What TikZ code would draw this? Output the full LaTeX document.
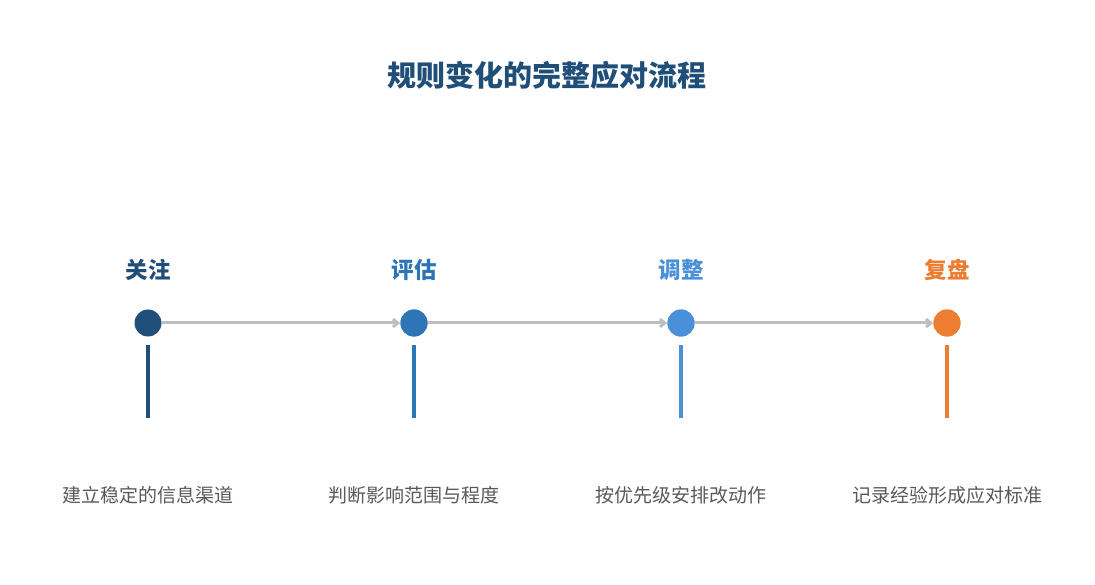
\documentclass[tikz,border=0pt]{standalone}
\usepackage{fontspec}
\setmainfont{Noto Sans CJK SC}
\usetikzlibrary{arrows.meta}
\definecolor{stepA}{HTML}{1F4E79}
\definecolor{stepB}{HTML}{2E75B6}
\definecolor{stepC}{HTML}{4A90D9}
\definecolor{stepD}{HTML}{ED7D31}
\definecolor{linkgray}{HTML}{BFBFBF}
\definecolor{descgray}{HTML}{595959}
\tikzset{
  dot/.style={circle,fill=#1,minimum size=27pt,inner sep=0pt},
  step/.style={font=\fontsize{22.5}{26}\selectfont\bfseries,text=#1},
  desc/.style={font=\fontsize{19}{22}\selectfont,text=descgray},
  stem/.style={line width=3.5pt,draw=#1},
  link/.style={draw=linkgray,line width=3pt,-{Straight Barb[length=5pt,width=8pt]}}
}
\begin{document}
\begin{tikzpicture}[x=1pt,y=-1pt]
  \useasboundingbox (0,0) rectangle (1095,585);
  \node (title) at (547,75) [font=\fontsize{29}{34}\selectfont\bfseries,text=stepA] {规则变化的完整应对流程};
  % steps
  \node (d1) at (148,323) [dot=stepA] {};
  \node (d2) at (414,323) [dot=stepB] {};
  \node (d3) at (681,323) [dot=stepC] {};
  \node (d4) at (947,323) [dot=stepD] {};
  \node (s1) at (148,270) [step=stepA] {关注};
  \node (s2) at (414,270) [step=stepB] {评估};
  \node (s3) at (681,270) [step=stepC] {调整};
  \node (s4) at (947,270) [step=stepD] {复盘};
  \coordinate (t1) at (148,345); \coordinate (b1) at (148,418);
  \coordinate (t2) at (414,345); \coordinate (b2) at (414,418);
  \coordinate (t3) at (681,345); \coordinate (b3) at (681,418);
  \coordinate (t4) at (947,345); \coordinate (b4) at (947,418);
  \draw[stem=stepA] (t1) -- (b1);
  \draw[stem=stepB] (t2) -- (b2);
  \draw[stem=stepC] (t3) -- (b3);
  \draw[stem=stepD] (t4) -- (b4);
  \node (e1) at (148,495) [desc] {建立稳定的信息渠道};
  \node (e2) at (414,495) [desc] {判断影响范围与程度};
  \node (e3) at (681,495) [desc] {按优先级安排改动作};
  \node (e4) at (947,495) [desc] {记录经验形成应对标准};
  % links
  \draw[link] (d1) -- (d2);
  \draw[link] (d2) -- (d3);
  \draw[link] (d3) -- (d4);
  \node at (d2) [dot=stepB] {};
  \node at (d3) [dot=stepC] {};
  \node at (d4) [dot=stepD] {};
\end{tikzpicture}
\end{document}
